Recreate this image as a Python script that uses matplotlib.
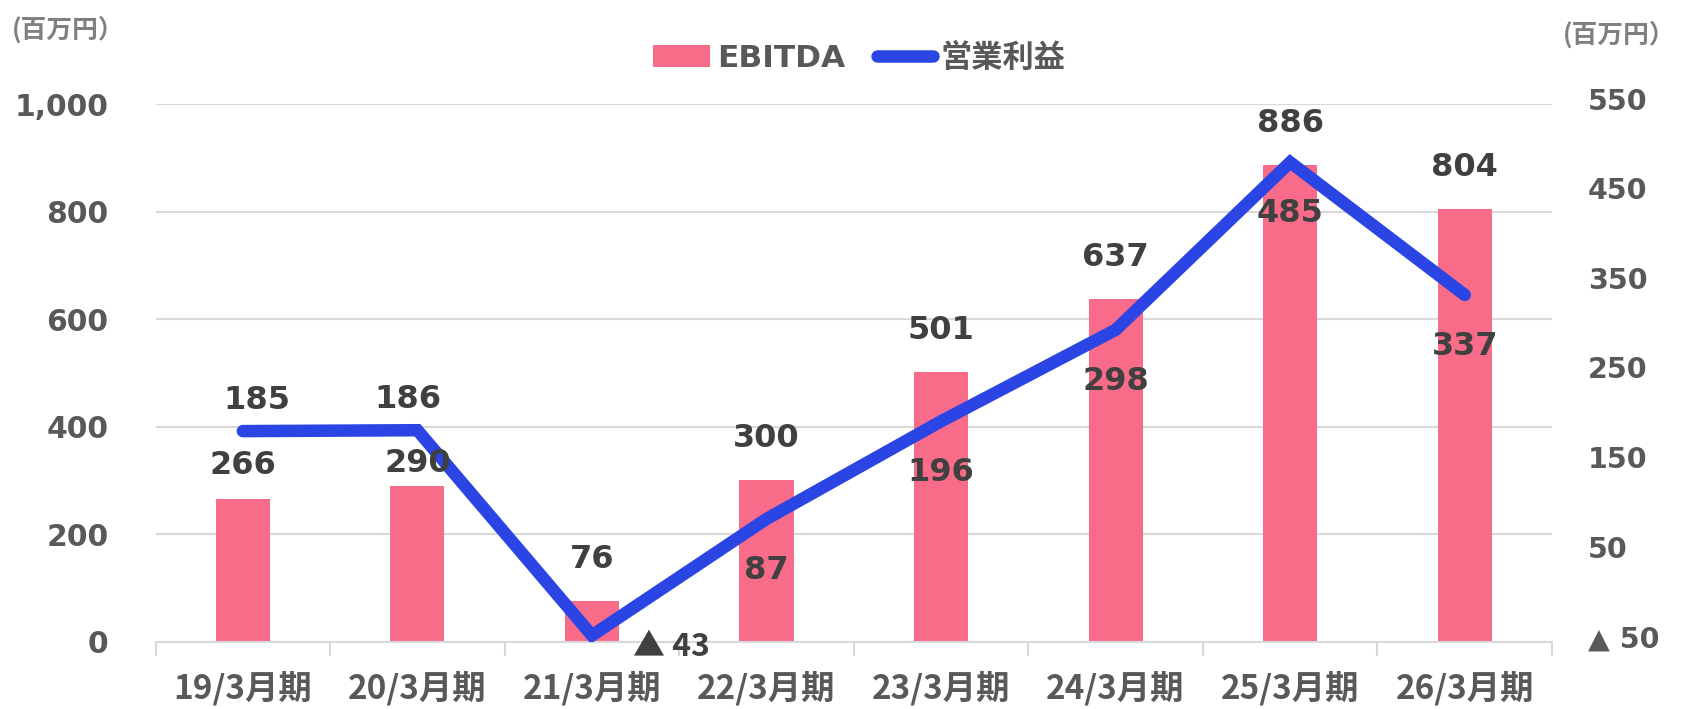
import matplotlib
matplotlib.use("Agg")
import matplotlib.pyplot as plt
from matplotlib.patches import Patch
from matplotlib.lines import Line2D
from matplotlib.transforms import ScaledTranslation

categories = ["19/3月期", "20/3月期", "21/3月期", "22/3月期", "23/3月期", "24/3月期", "25/3月期", "26/3月期"]
ebitda = [266, 290, 76, 300, 501, 637, 886, 804]
op_profit = [185, 186, -43, 87, 196, 298, 485, 337]
left_ticks = [0, 200, 400, 600, 800, 1000]
right_ticks = [-50, 50, 150, 250, 350, 450, 550]

BAR = "#F86B89"
LINE = "#2A45E3"
TXT = "#404040"
TICK = "#595959"
GRID = "#D9D9D9"
LAT = ["DejaVu Sans", "Noto Sans CJK JP"]
CJK = ["Noto Sans CJK JP", "DejaVu Sans"]

plt.rcParams["font.family"] = LAT

fig = plt.figure(figsize=(16.82, 7.09), dpi=100)
ax = fig.add_axes([0.0925, 0.0949, 0.8302, 0.7584])
ax2 = ax.twinx()

x = list(range(len(categories)))
ax.bar(x, ebitda, width=0.31, color=BAR, zorder=2)
ax.set_ylim(0, 1000)
ax.set_xlim(-0.5, len(categories) - 0.5)
ax.set_yticks(left_ticks)
ax.set_yticklabels([f"{v:,}" for v in left_ticks], fontsize=21.5, fontweight="bold", color=TICK)
ax.tick_params(axis="y", length=0, pad=34)
ax.grid(axis="y", color=GRID, linewidth=1.5, zorder=0)
ax.set_axisbelow(True)
for s in ["left", "right", "top"]:
    ax.spines[s].set_visible(False)
ax.spines["bottom"].set_color(GRID)
ax.spines["bottom"].set_linewidth(1.5)

ax.set_xticks([i - 0.5 for i in range(len(categories) + 1)])
ax.set_xticklabels([])
ax.tick_params(axis="x", which="major", length=10, width=1.5, color=GRID)
ax.set_xticks(x, minor=True)
ax.set_xticklabels(categories, minor=True, fontsize=24, fontweight="bold", color=TICK, family=CJK)
ax.tick_params(axis="x", which="minor", length=0, pad=21)

ax2.plot(x, op_profit, color=LINE, linewidth=9, zorder=3, solid_joinstyle="miter", solid_capstyle="round")
ax2.set_ylim(-50, 550)
ax2.set_yticks(right_ticks)
ax2.set_yticklabels([("▲ " + str(abs(v))) if v < 0 else str(v) for v in right_ticks],
                    fontsize=20.5, fontweight="bold", color=TICK)
ax2.tick_params(axis="y", length=0, pad=26)
shift = ScaledTranslation(0, 0.055, fig.dpi_scale_trans)
for lab in ax2.get_yticklabels():
    lab.set_transform(lab.get_transform() + shift)
for s in ["left", "right", "top", "bottom"]:
    ax2.spines[s].set_visible(False)

# EBITDA labels (drawn on ax2 so they sit above the line)
for i, v in enumerate(ebitda):
    dy = 30
    if i == 0:
        dy = 24
    elif i == 1:
        dy = 16
    ax2.annotate(f"{v:,}", (i, v), xycoords=ax.transData, xytext=(0, dy), textcoords="offset points",
                 ha="center", va="center", fontsize=23, fontweight="bold", color=TXT, zorder=5)

# Operating profit labels
for i, v in enumerate(op_profit):
    if v < 0:
        ax2.annotate("▲ " + str(abs(v)), (i, v), xytext=(57, -8), textcoords="offset points",
                     ha="center", va="center", fontsize=23, fontweight="bold", color=TXT,
                     family=CJK, zorder=5)
        continue
    if i == 0:
        dx, dy = 10, 22
    elif i == 1:
        dx, dy = -7, 22
    else:
        dx, dy = 0, -37
    ax2.annotate(f"{v:,}", (i, v), xytext=(dx, dy), textcoords="offset points",
                 ha="center", va="center", fontsize=23, fontweight="bold", color=TXT, zorder=5)

fig.text(0.007, 0.958, "(百万円）", fontsize=18.5, fontweight="bold", color="#808080",
         family=CJK, ha="left", va="center")
fig.text(0.996, 0.951, "(百万円）", fontsize=18.5, fontweight="bold", color="#808080",
         family=CJK, ha="right", va="center")

handles = [Patch(facecolor=BAR, edgecolor="none"),
           Line2D([0], [0], color=LINE, linewidth=9, solid_capstyle="round")]
leg = fig.legend(handles, ["EBITDA", "営業利益"], loc="center", bbox_to_anchor=(0.511, 0.918),
                 ncol=2, frameon=False, handlelength=1.8, handletextpad=0.25, columnspacing=1.0,
                 prop={"size": 22.5, "weight": "bold", "family": LAT})
for t in leg.get_texts():
    t.set_color(TICK)

fig.savefig("out.png", dpi=100)
